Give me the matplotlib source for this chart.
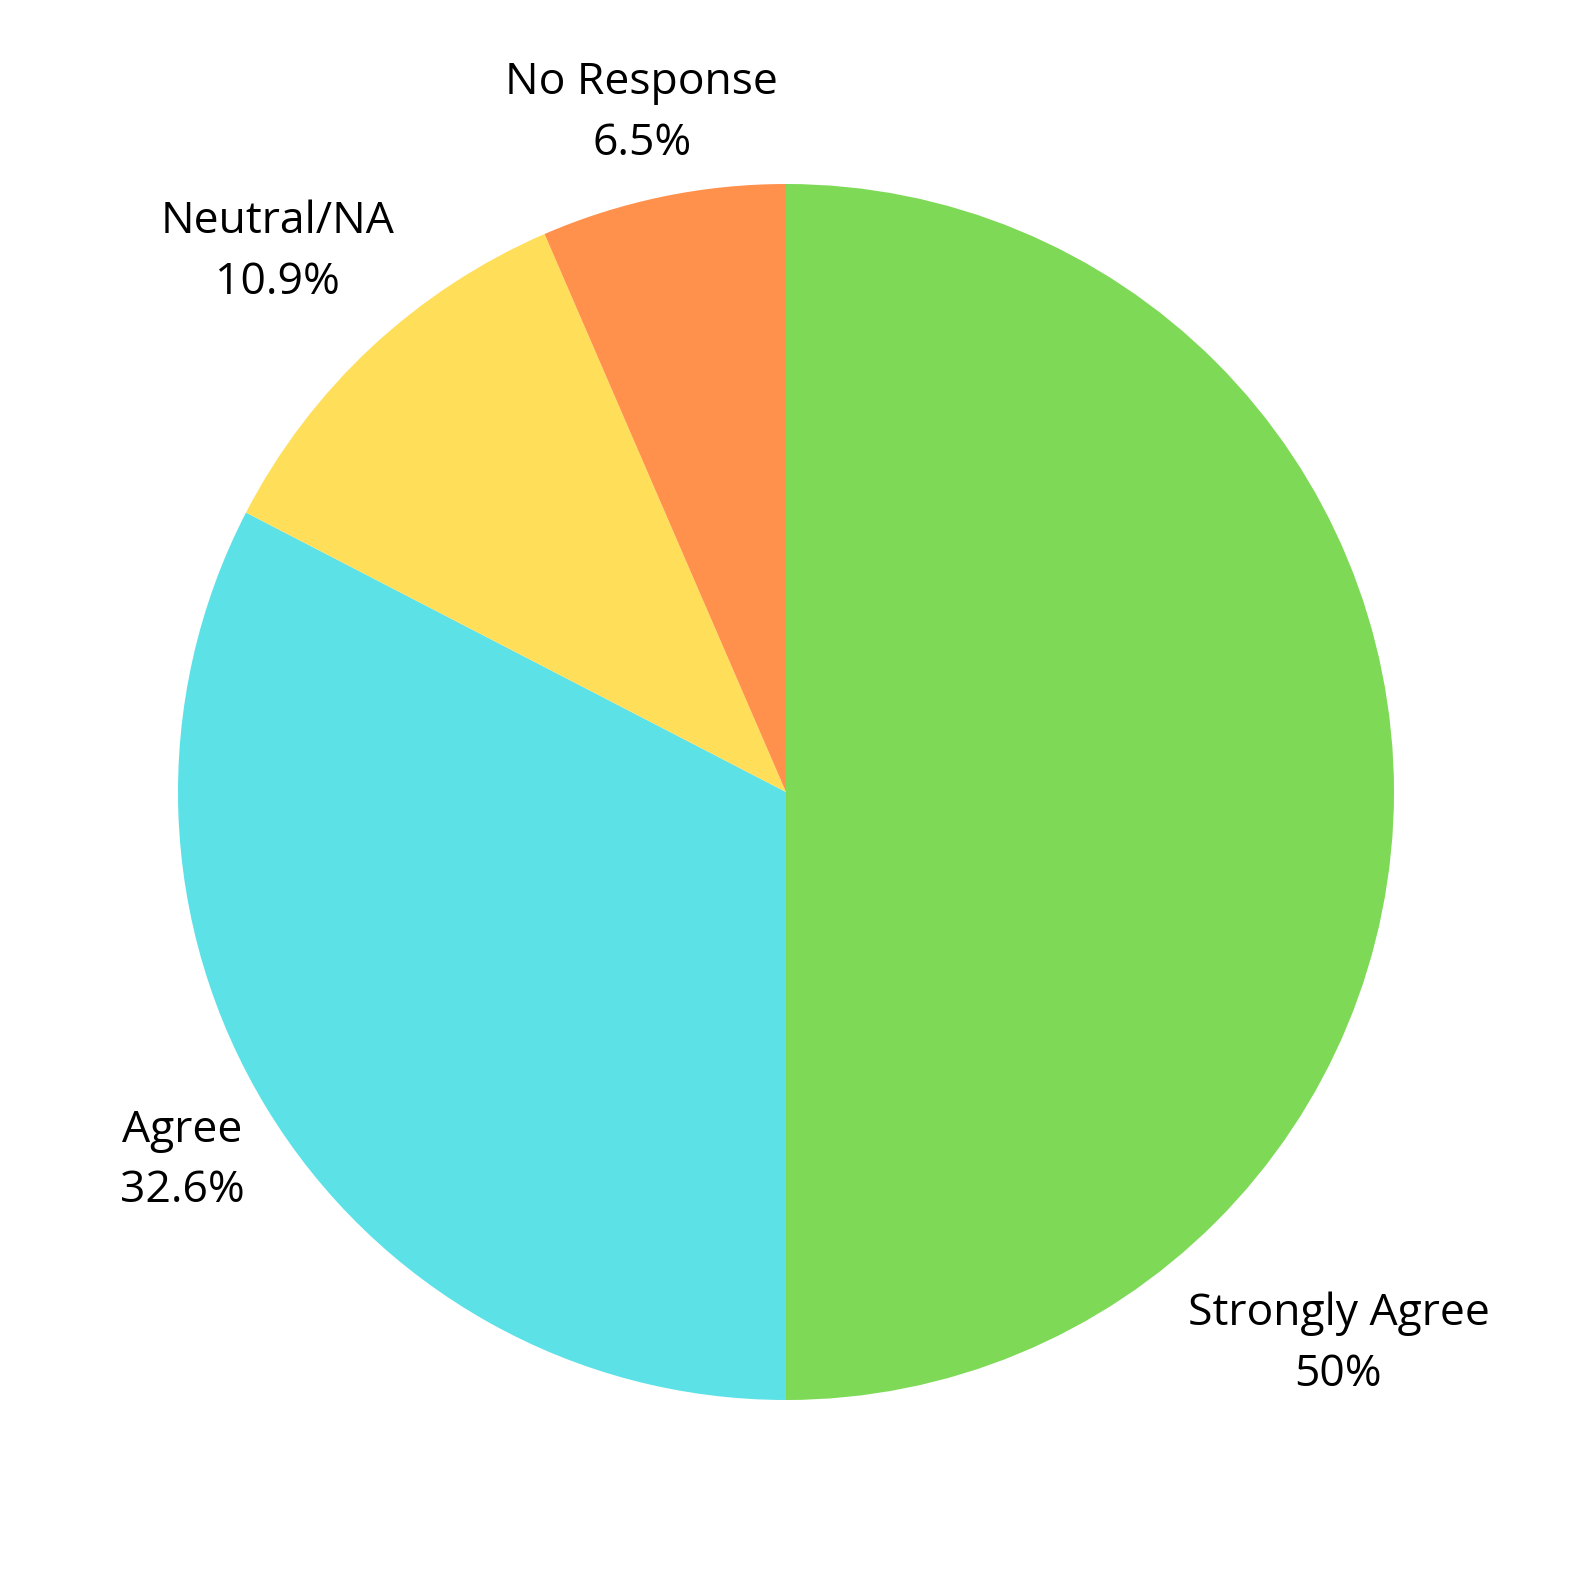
import numpy as np
from matplotlib import pyplot as plt

plt.rcParams['font.family'] = ['Open Sans', 'DejaVu Sans']

categories = ['Strongly Agree', 'Agree', 'Neutral/NA', 'No Response']
shares = [50.0, 32.6, 10.9, 6.5]
share_labels = ['50%', '32.6%', '10.9%', '6.5%']
colors = ['#7ED957', '#5CE1E6', '#FFDE59', '#FF914D']

# label placement around the pie (degrees, radius multiples)
label_angle = [-45.0, -148.6, 133.3, 102.0]
label_dist = [1.285, 1.164, 1.219, 1.141]

fig = plt.figure(figsize=(15.8, 15.8), dpi=100)
ax = fig.add_axes([0, 0, 1, 1])

ax.pie(shares, colors=colors, startangle=90, counterclock=False,
       radius=1.0, wedgeprops=dict(linewidth=0))

for name, pct, ang, dist in zip(categories, share_labels, label_angle, label_dist):
    a = np.deg2rad(ang)
    ax.text(dist * np.cos(a), dist * np.sin(a), f"{name}\n{pct}",
            ha='center', va='center', fontsize=32, linespacing=1.49,
            color='black')

# pie centre sits at (786, 792) px, radius about 608 px
R = 608
ax.set_xlim(-786 / R, (1580 - 786) / R)
ax.set_ylim(-(1580 - 792) / R, 792 / R)
ax.set_aspect('auto')
ax.axis('off')

fig.savefig('out.png', dpi=100, facecolor='white')
plt.close(fig)
